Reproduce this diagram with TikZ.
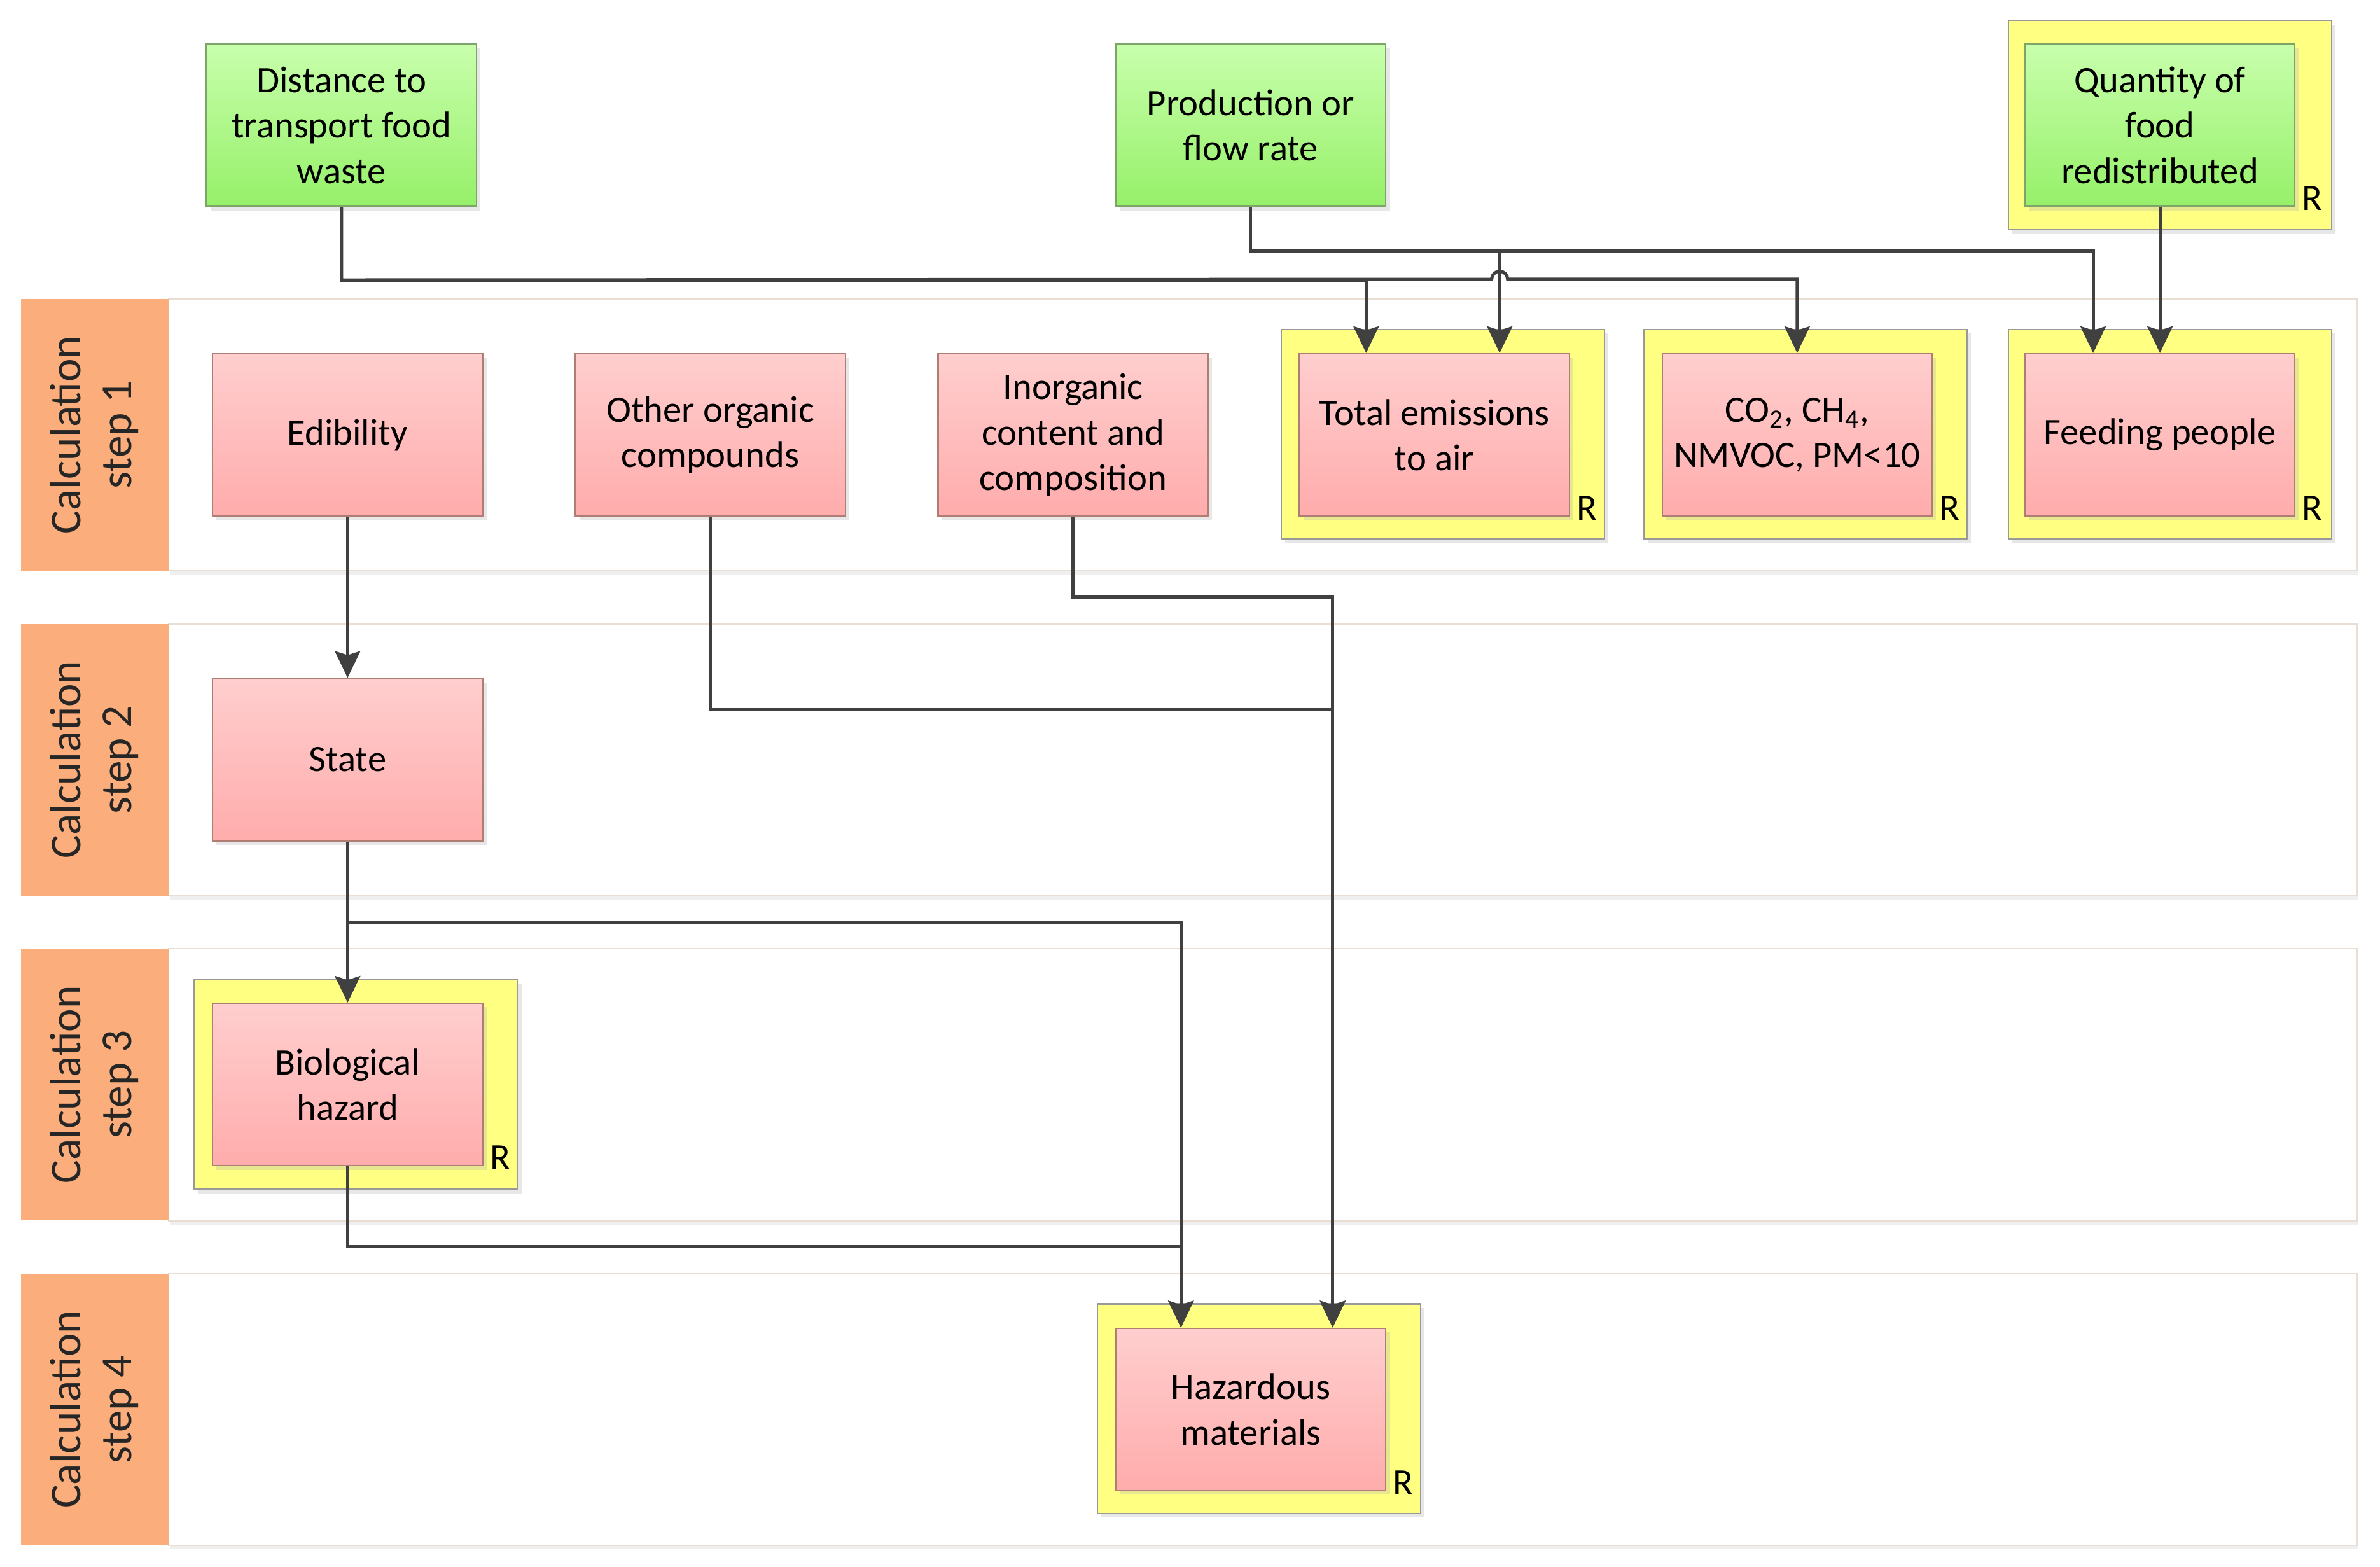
\documentclass[tikz,border=0pt]{standalone}
\usepackage{fontspec}
\setmainfont{Carlito}
\usepackage{xcolor}
\usepackage{tikz}
\usetikzlibrary{arrows.meta}
\usetikzlibrary{shadows}

\definecolor{laneorange}{RGB}{251,174,124}
\definecolor{laneedge}{RGB}{232,222,212}
\definecolor{greentop}{RGB}{200,255,172}
\definecolor{greenbot}{RGB}{150,240,105}
\definecolor{greenedge}{RGB}{125,165,105}
\definecolor{pinktop}{RGB}{255,206,206}
\definecolor{pinkbot}{RGB}{255,172,172}
\definecolor{pinkedge}{RGB}{175,125,115}
\definecolor{ryellow}{RGB}{255,255,130}
\definecolor{flowgray}{RGB}{64,64,64}

\tikzset{
	softshadow/.style={drop shadow={shadow xshift=1.5pt, shadow yshift=-1.5pt, opacity=0.3, fill=black!30}},
	lanebody/.style={draw=laneedge, fill=white, line width=0.6pt, drop shadow={shadow xshift=0.5pt, shadow yshift=-1.5pt, opacity=0.2, fill=black!30}},
	lanetext/.style={rotate=90, align=center, text=black!85, font=\fontsize{16.5}{19}\selectfont},
	pinkbox/.style={draw=pinkedge, line width=0.5pt, top color=pinktop, bottom color=pinkbot, minimum width=3.56cm, minimum height=2.14cm, align=center, font=\fontsize{14}{17}\selectfont, softshadow},
	greenbox/.style={pinkbox, draw=greenedge, top color=greentop, bottom color=greenbot},
	yellowbox/.style={draw=black!40, line width=0.5pt, fill=ryellow, minimum width=4.26cm, minimum height=2.76cm, softshadow},
	rmark/.style={anchor=south, inner sep=0pt, font=\fontsize{14}{14}\selectfont},
	flow/.style={draw=flowgray, line width=1.2pt, -{Stealth[length=10pt, width=9.5pt, inset=1.5pt]}}
}

\begin{document}
\begin{tikzpicture}[x=0.02cm, y=-0.02cm]
	\path[use as bounding box, fill=white] (0,0) rectangle (1568,1032);
	
	% lanes
	\foreach \i in {1,...,4}{
		\begin{scope}[shift={(0,214*\i-214)}]
			\draw[lanebody] (111,197) rectangle (1553,376);
			\fill[laneorange] (14,197) rectangle (111,376);
			\node[lanetext] (lane\i) at (62,286.5) {Calculation\\step \i};
		\end{scope}
	}
	
	% inputs
	\node[greenbox] (dist) at (225,82.5) {Distance to\\transport food\\waste};
	\node[greenbox] (prod) at (824,82.5) {Production or\\flow rate};
	\node[yellowbox] (quant-bg) at (1429.5,82.5) {};
	\node[greenbox] (quant) at (1423,82.5) {Quantity of\\food\\redistributed};
	\node[rmark] (quant-r) at ([xshift=0.22cm, yshift=-0.05cm]quant.south east) {R};
	
	% step 1
	\node[pinkbox] (edib) at (229,286.5) {Edibility};
	\node[pinkbox] (other) at (468,286.5) {Other organic\\compounds};
	\node[pinkbox] (inorg) at (707,286.5) {Inorganic\\content and\\composition};
	\node[yellowbox] (emis-bg) at (950.5,286) {};
	\node[pinkbox] (emis) at (945,286.5) {Total emissions\\to air};
	\node[rmark] (emis-r) at ([xshift=0.22cm, yshift=-0.05cm]emis.south east) {R};
	\node[yellowbox] (co2-bg) at (1189.5,286) {};
	\node[pinkbox] (co2) at (1184,286.5) {CO\textsubscript{2}, CH\textsubscript{4},\\NMVOC, PM<10};
	\node[rmark] (co2-r) at ([xshift=0.22cm, yshift=-0.05cm]co2.south east) {R};
	\node[yellowbox] (feed-bg) at (1429.5,286) {};
	\node[pinkbox] (feed) at (1423,286.5) {Feeding people};
	\node[rmark] (feed-r) at ([xshift=0.22cm, yshift=-0.05cm]feed.south east) {R};
	
	% step 2
	\node[pinkbox] (state) at (229,500.5) {State};
	
	% step 3
	\node[yellowbox] (bio-bg) at (234.5,714.5) {};
	\node[pinkbox] (bio) at (229,714.5) {Biological\\hazard};
	\node[rmark] (bio-r) at ([xshift=0.22cm, yshift=-0.05cm]bio.south east) {R};
	
	% step 4
	\node[yellowbox] (haz-bg) at (829.5,928) {};
	\node[pinkbox] (haz) at (824,928.5) {Hazardous\\materials};
	\node[rmark] (haz-r) at ([xshift=0.22cm, yshift=-0.05cm]haz.south east) {R};
	
	% connectors
	\draw[flow] (dist.south) -- ++(0,48) -| ([xshift=-0.9cm]emis.north);
	\draw[flow] (dist.south) -- ++(0,48) -- (982.7,184) arc[start angle=180, end angle=0, radius=3pt] -| (co2.north);
	\draw[flow] (prod.south) -- ++(0,29) -| ([xshift=0.86cm]emis.north);
	\draw[flow] (prod.south) -- ++(0,29) -| ([xshift=-0.88cm]feed.north);
	\draw[flow] (quant.south) -- (feed.north);
	
	\draw[flow] (edib.south) -- (state.north);
	\draw[flow] (state.south) -- (bio.north);
	\draw[flow] (state.south) -- ++(0,53) -| ([xshift=-0.92cm]haz.north);
	\draw[flow] (bio.south) -- ++(0,53) -| ([xshift=-0.92cm]haz.north);
	\draw[flow] (other.south) -- ++(0,127) -| ([xshift=1.08cm]haz.north);
	\draw[flow] (inorg.south) -- ++(0,53) -| ([xshift=1.08cm]haz.north);
	
\end{tikzpicture}
\end{document}
